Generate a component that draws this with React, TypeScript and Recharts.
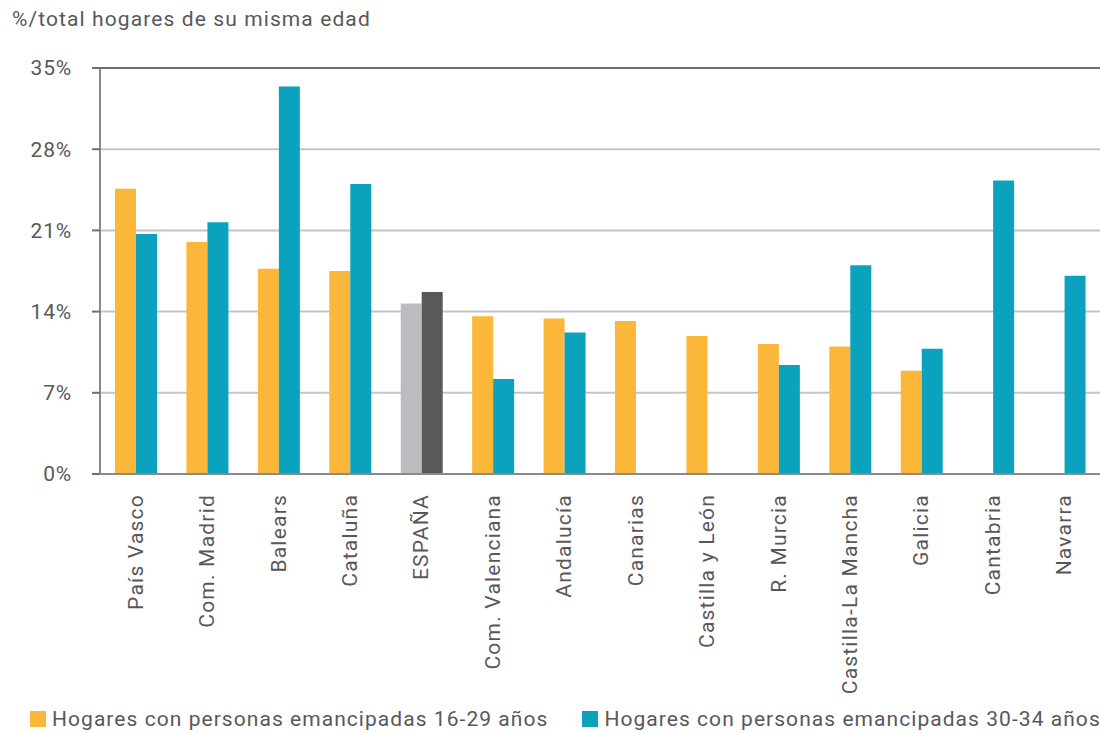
import { BarChart, Bar, XAxis, YAxis, CartesianGrid, Cell, Legend, ReferenceLine } from "recharts";

const regions = [
  "País Vasco",
  "Com. Madrid",
  "Balears",
  "Cataluña",
  "ESPAÑA",
  "Com. Valenciana",
  "Andalucía",
  "Canarias",
  "Castilla y León",
  "R. Murcia",
  "Castilla-La Mancha",
  "Galicia",
  "Cantabria",
  "Navarra"
];

const young = [24.6, 20.0, 17.7, 17.5, 14.7, 13.6, 13.4, 13.2, 11.9, 11.2, 11.0, 8.9, null, null];
const older = [20.7, 21.7, 33.4, 25.0, 15.7, 8.2, 12.2, null, null, 9.4, 18.0, 10.8, 25.3, 17.1];

const yTicks = [0, 7, 14, 21, 28, 35];

const seriesNames = [
  "Hogares con personas emancipadas 16-29 años",
  "Hogares con personas emancipadas 30-34 años"
];

const ORANGE = "#fbb73a";
const TEAL = "#0aa2bc";
const GREY = "#bbbcbf";
const DARK = "#58595b";
const TEXT = "#58585a";
const FONT = "Roboto, sans-serif";

const data = regions.map((name, i) => ({ name, young: young[i], older: older[i] }));

function LegendBox() {
  const items = [
    { label: seriesNames[0], color: ORANGE },
    { label: seriesNames[1], color: TEAL }
  ];
  return (
    <div style={{ display: "flex", fontFamily: FONT, fontSize: 21, letterSpacing: 1.05, color: TEXT, whiteSpace: "nowrap" }}>
      {items.map((it, i) => (
        <div key={it.label} style={{ display: "flex", alignItems: "center", marginRight: i === 0 ? 34 : 0 }}>
          <span style={{ width: 16, height: 16, background: it.color, display: "inline-block", marginRight: 6 }} />
          {it.label}
        </div>
      ))}
    </div>
  );
}

function XTick(props: any) {
  const { x, y, payload } = props;
  const ty = y + 12;
  return (
    <text
      x={x}
      y={ty}
      transform={`rotate(-90, ${x}, ${ty})`}
      textAnchor="end"
      dominantBaseline="central"
      fill={TEXT}
      fontSize={21}
      letterSpacing={1.2}
      fontFamily={FONT}
    >
      {payload.value}
    </text>
  );
}

export default function App() {
  return (
    <div style={{ position: "absolute", left: 0, top: 0, width: 1100, height: 733, background: "white" }}>
      <div style={{ position: "absolute", left: 12, top: 7, fontFamily: FONT, fontSize: 21, letterSpacing: 1.1, color: TEXT }}>
        %/total hogares de su misma edad
      </div>
      <BarChart
        width={1100}
        height={733}
        data={data}
        margin={{ top: 68, right: 0, left: 0, bottom: 0 }}
        barGap={0}
        barSize={21}
      >
        <CartesianGrid vertical={false} stroke="#c4c4c6" strokeWidth={2} />
        <XAxis
          dataKey="name"
          interval={0}
          height={259}
          tick={<XTick />}
          tickLine={false}
          axisLine={{ stroke: "#8a8a8c", strokeWidth: 2 }}
        />
        <YAxis
          width={100}
          domain={[0, 35]}
          ticks={yTicks}
          tickFormatter={(v: number) => `${v}%`}
          tickSize={8}
          tickMargin={20}
          tickLine={{ stroke: "#707072", strokeWidth: 2 }}
          axisLine={{ stroke: "#8a8a8c", strokeWidth: 2 }}
          tick={{ fill: TEXT, fontSize: 21, fontFamily: FONT, letterSpacing: 0.8 }}
        />
        <ReferenceLine y={35} stroke="#6e6e70" strokeWidth={2} />
        <Legend
          layout="horizontal"
          verticalAlign="middle"
          align="center"
          wrapperStyle={{ position: "absolute", left: 30, top: 707, width: "auto" }}
          content={() => <LegendBox />}
        />
        <Bar dataKey="young" name={seriesNames[0]} fill={ORANGE} isAnimationActive={false}>
          {data.map((d) => (
            <Cell key={d.name} fill={d.name === "ESPAÑA" ? GREY : ORANGE} />
          ))}
        </Bar>
        <Bar dataKey="older" name={seriesNames[1]} fill={TEAL} isAnimationActive={false}>
          {data.map((d) => (
            <Cell key={d.name} fill={d.name === "ESPAÑA" ? DARK : TEAL} />
          ))}
        </Bar>
      </BarChart>
    </div>
  );
}
